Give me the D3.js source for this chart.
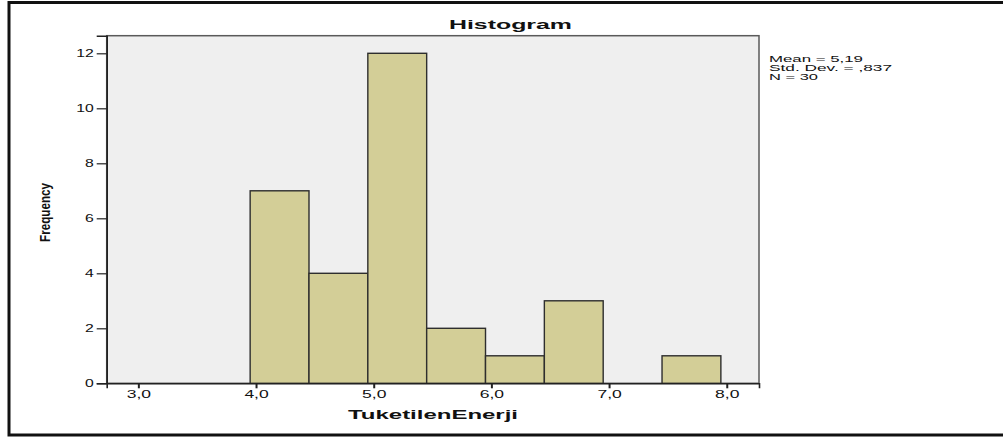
<!DOCTYPE html>
<html><head><meta charset="utf-8">
<script src="https://cdn.jsdelivr.net/npm/d3@7"></script>
<style>
html,body{margin:0;padding:0;background:#fff;}
svg{display:block;font-family:Arial,"Liberation Sans",sans-serif;}
</style></head>
<body>
<svg id="chart" width="1003" height="437"></svg>
<script>
// Data
const binStarts = [3.95, 4.45, 4.95, 5.45, 5.95, 6.45, 6.95, 7.45];
const binWidth = 0.5;
const counts = [7, 4, 12, 2, 1, 3, 0, 1];
const xTicks = [3, 4, 5, 6, 7, 8];
const yTicks = [0, 2, 4, 6, 8, 10, 12];
const statLines = ["Mean = 5,19", "Std. Dev. = ,837", "N = 30"];
const title = "Histogram";
const xTitle = "TuketilenEnerji";
const yTitle = "Frequency";

const svg = d3.select("#chart");
const L = 106.7, R = 759, T = 35.7, B = 383.3;
const x = d3.scaleLinear().domain([2.731, 8.274]).range([L, R]);
const y = d3.scaleLinear().domain([0, 12.64]).range([B, T]);
const comma = v => d3.format(".1f")(v).replace(".", ",");

// outer frame
svg.append("rect").attr("x", 9).attr("y", 2.5).attr("width", 1010).attr("height", 432.5)
  .attr("fill", "none").attr("stroke", "#111").attr("stroke-width", 3);

// plot background
svg.append("rect").attr("x", L).attr("y", T).attr("width", R - L).attr("height", B - T)
  .attr("fill", "#efefef").attr("stroke", "#5a5a5a").attr("stroke-width", 1.5);

// bars
const bins = binStarts.map((s, i) => ({x0: s, x1: s + binWidth, n: counts[i]})).filter(d => d.n > 0);
svg.append("g").selectAll("rect").data(bins).join("rect")
  .attr("x", d => x(d.x0)).attr("width", d => x(d.x1) - x(d.x0))
  .attr("y", d => y(d.n)).attr("height", d => y(0) - y(d.n))
  .attr("fill", "#d3ce97").attr("stroke", "#2e2e2e").attr("stroke-width", 1.4);

// axes
const stretch = (sel, f) => sel.each(function(){
  const w = this.getComputedTextLength();
  d3.select(this).attr("textLength", w * f).attr("lengthAdjust", "spacingAndGlyphs");
});

const yAx = svg.append("g").attr("transform", `translate(${L},0)`)
  .call(d3.axisLeft(y).tickValues(yTicks).tickSize(10).tickPadding(3).tickFormat(d3.format("d")));
yAx.select(".domain").attr("stroke", "#222").attr("stroke-width", 1.6);
yAx.selectAll(".tick line").attr("stroke", "#222").attr("stroke-width", 1.2);
yAx.selectAll("text").attr("font-size", 10.5).attr("fill", "#111").attr("font-family", "Arial, 'Liberation Sans', sans-serif").call(stretch, 1.5);

const xAx = svg.append("g").attr("transform", `translate(0,${B})`)
  .call(d3.axisBottom(x).tickValues(xTicks).tickSize(5).tickPadding(3).tickFormat(comma));
xAx.select(".domain").attr("stroke", "#222").attr("stroke-width", 1.6);
xAx.selectAll(".tick line").attr("stroke", "#222").attr("stroke-width", 2);
xAx.selectAll("text").attr("font-size", 10).attr("fill", "#111").attr("font-family", "Arial, 'Liberation Sans', sans-serif").call(stretch, 1.75);

// title
svg.append("text").attr("x", 510.5).attr("y", 28.7).attr("text-anchor", "middle")
  .attr("font-size", 13).attr("font-weight", "bold").attr("fill", "#111")
  .attr("textLength", 123).attr("lengthAdjust", "spacingAndGlyphs").text(title);

// x title
svg.append("text").attr("x", 433).attr("y", 418.5).attr("text-anchor", "middle")
  .attr("font-size", 12).attr("font-weight", "bold").attr("fill", "#111")
  .attr("textLength", 170).attr("lengthAdjust", "spacingAndGlyphs").text(xTitle);

// y title
svg.append("text").attr("transform", "translate(50,212.5) rotate(-90)").attr("text-anchor", "middle")
  .attr("font-size", 15).attr("font-weight", "bold").attr("fill", "#111")
  .attr("textLength", 59).attr("lengthAdjust", "spacingAndGlyphs").text(yTitle);

// stats
const statWidths = [94, 123, 49];
svg.append("g").selectAll("text").data(statLines).join("text")
  .attr("x", 769).attr("y", (d, i) => 62.3 + i * 9)
  .attr("font-size", 9.5).attr("fill", "#111")
  .attr("textLength", (d, i) => statWidths[i]).attr("lengthAdjust", "spacingAndGlyphs")
  .text(d => d);
</script>
</body></html>
